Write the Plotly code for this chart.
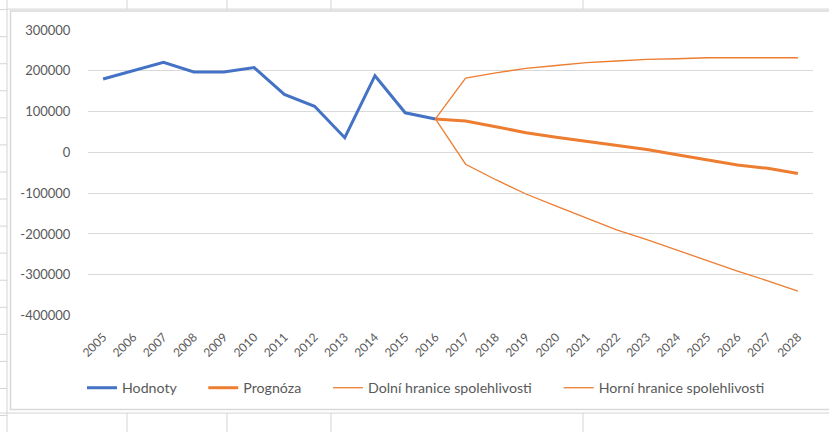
import plotly.graph_objects as go

years = [str(y) for y in range(2005, 2029)]

hodnoty = [180000, 200000, 221000, 197000, 197000, 208000, 142000, 113000, 36000,
           188000, 97000, 82000] + [None] * 12
prognoza = [None] * 11 + [82000, 77000, 63000, 48000, 37000, 27000, 18000, 7000,
                          -6000, -19000, -31000, -39000, -52000]
dolni = [None] * 11 + [82000, -29000, -67000, -102000, -132000, -161000, -190000,
                       -214000, -240000, -266000, -291000, -315000, -340000]
horni = [None] * 11 + [82000, 182000, 195000, 206000, 213000, 220000, 224000,
                       228000, 229500, 232000, 232000, 232000, 232000]

series_names = ["Hodnoty", "Prognóza", "Dolní hranice spolehlivosti", "Horní hranice spolehlivosti"]

y_tickvals = [300000, 200000, 100000, 0, -100000, -200000, -300000, -400000]
y_ticktext = ["300000", "200000", "100000", "0", "-100000", "-200000", "-300000", "-400000"]

BLUE = "#4472C4"
ORANGE = "#ED7D31"
TXT = "#595959"
FONT = "Lato"

W, H = 829, 434
L, R, T, B = 88, 813, 30, 317
PAD = "\u00a0" * 6


def px_x(p):
    return (p - L) / (R - L)


def px_y(p):
    return (B - p) / (B - T)


fig = go.Figure()
fig.add_trace(go.Scatter(x=years, y=hodnoty, name=series_names[0] + PAD, mode="lines",
                         line=dict(color=BLUE, width=3)))
fig.add_trace(go.Scatter(x=years, y=prognoza, name=series_names[1] + PAD, mode="lines",
                         line=dict(color=ORANGE, width=3)))
fig.add_trace(go.Scatter(x=years, y=dolni, name=series_names[2] + PAD, mode="lines",
                         line=dict(color=ORANGE, width=1.3)))
fig.add_trace(go.Scatter(x=years, y=horni, name=series_names[3], mode="lines",
                         line=dict(color=ORANGE, width=1.3)))

shapes = []
cell = dict(color="#d4d4d4", width=1)
# spreadsheet cell lines visible outside the chart area
for cx in [127, 227, 331, 583]:
    shapes.append(dict(type="line", xref="paper", yref="paper", x0=px_x(cx), x1=px_x(cx),
                       y0=px_y(0), y1=px_y(9), line=cell, layer="below"))
    shapes.append(dict(type="line", xref="paper", yref="paper", x0=px_x(cx), x1=px_x(cx),
                       y0=px_y(415), y1=px_y(434), line=cell, layer="below"))
shapes.append(dict(type="line", xref="paper", yref="paper", x0=px_x(7), x1=px_x(7),
                   y0=px_y(0), y1=px_y(434), line=cell, layer="below"))
for k in range(16):
    ry = 9.5 + 27.2 * k
    shapes.append(dict(type="line", xref="paper", yref="paper", x0=px_x(0), x1=px_x(7),
                       y0=px_y(ry), y1=px_y(ry), line=cell, layer="below"))
shapes.append(dict(type="line", xref="paper", yref="paper", x0=px_x(0), x1=px_x(W),
                   y0=px_y(415), y1=px_y(415), line=cell, layer="below"))
shapes.append(dict(type="line", xref="paper", yref="paper", x0=px_x(7), x1=px_x(W),
                   y0=px_y(9), y1=px_y(9), line=cell, layer="below"))
# chart area border
shapes.append(dict(type="rect", xref="paper", yref="paper", x0=px_x(10.5), x1=px_x(840),
                   y0=px_y(11), y1=px_y(411.5), line=dict(color="#d9d9d9", width=1.5),
                   fillcolor="white", layer="below"))

fig.update_layout(
    width=W, height=H,
    margin=dict(l=L, r=W - R, t=T, b=H - B),
    paper_bgcolor="white", plot_bgcolor="rgba(0,0,0,0)",
    font=dict(family=FONT, size=12, color=TXT),
    showlegend=True,
    legend=dict(orientation="h", xref="container", yref="container", x=82 / W, y=(H - 388) / H,
                xanchor="left", yanchor="middle", font=dict(family=FONT, size=14.2, color=TXT),
                itemwidth=30, traceorder="normal"),
    shapes=shapes,
)
fig.update_xaxes(type="category", range=[-0.5, 23.5], tickangle=-45, showgrid=False,
                 showline=False, zeroline=False, ticks="outside", ticklen=9,
                 tickcolor="rgba(0,0,0,0)", tickfont=dict(family=FONT, size=12, color=TXT))
fig.update_yaxes(range=[-400000, 300000], tickvals=y_tickvals, ticktext=y_ticktext,
                 showgrid=True, gridcolor="#d9d9d9", gridwidth=1, zeroline=False,
                 showline=False, ticks="outside", ticklen=14, tickcolor="rgba(0,0,0,0)",
                 tickfont=dict(family=FONT, size=13, color=TXT))

fig.write_html("out.html", config={"displayModeBar": False},
               post_script="document.body.style.margin='0';document.body.style.overflow='hidden';")
